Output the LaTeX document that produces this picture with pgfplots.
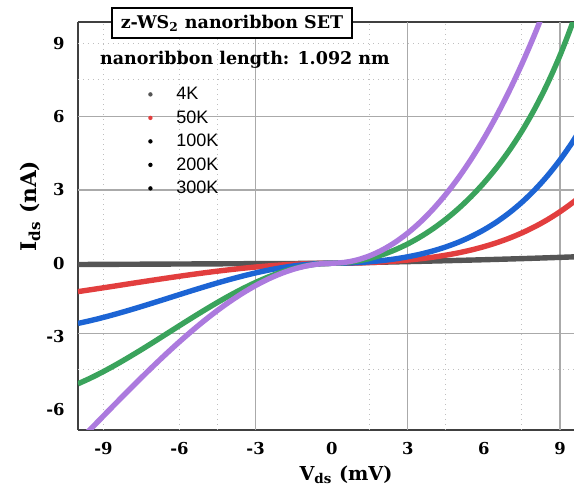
\documentclass[border=0pt]{standalone}
\usepackage{fontspec}
\setmainfont{DejaVu Serif}
\newfontfamily\arial{Liberation Sans}
\usepackage{pgfplots}
\pgfplotsset{compat=1.18}
\definecolor{c4}{RGB}{85,85,85}
\definecolor{c50}{RGB}{226,62,62}
\definecolor{c100}{RGB}{28,100,212}
\definecolor{c200}{RGB}{58,163,92}
\definecolor{c300}{RGB}{172,122,222}
\definecolor{gridc}{RGB}{170,170,170}
\pgfplotsset{dotleg/.style={legend image code/.code={\fill[##1, draw=none] (0pt,0pt) circle (1.1pt); \path[draw=none, fill=none] (-3pt,-1pt) rectangle (12pt,1pt);}}}
\begin{document}
\begin{tikzpicture}
\begin{axis}[
  scale only axis, width=248pt, height=203.75pt,
  xmin=-10, xmax=9.55, ymin=-6.8, ymax=9.87,
  axis x line*=box, axis y line*=left,
  axis line style={draw=black!75, line width=1pt},
  xtick={-9,-6,-3,0,3,6,9}, xticklabels={-9,-6,-3,0,3,6,9},
  ytick={-6,-3,0,3,6,9}, yticklabels={-6,-3,0,3,6,9},
  major tick length=0pt, minor tick length=0pt,
  ticklabel style={font=\fontsize{8.2}{9}\selectfont\bfseries},
  xticklabel style={anchor=north, inner sep=0pt, yshift=-6.1pt},
  yticklabel style={anchor=east, inner sep=0pt, xshift=-6.5pt},
  xlabel={V\textsubscript{ds} (mV)},
  xlabel style={at={(axis description cs:0.5403,-0.1117)}, anchor=center, font=\fontsize{9.6}{11}\selectfont\bfseries},
  ylabel={I\textsubscript{ds} (nA)},
  ylabel style={at={(axis description cs:-0.0968,0.548)}, anchor=center, font=\fontsize{10.8}{12}\selectfont\bfseries},
  every axis title shift=0pt,
  title={z-WS\textsubscript{2} nanoribbon SET},
  title style={at={(axis description cs:0.3105,1)}, anchor=center, yshift=-0.5pt, draw=black, fill=white, line width=0.8pt, font=\fontsize{8.75}{10}\selectfont\bfseries, inner xsep=4.5pt, inner ysep=3.5pt},
  legend style={at={(axis description cs:0.121,0.862)}, anchor=north west, draw=none, fill=none, font=\arial\fontsize{9}{10}\selectfont, row sep=0pt, column sep=0pt, nodes={inner sep=1pt, text height=7.5pt, text depth=2.25pt}},
  legend cell align=left,
  every axis plot/.append style={line width=2.7pt, smooth},
]
\addlegendimage{dotleg, c4}
\addlegendentry{4K}
\addlegendimage{dotleg, c50}
\addlegendentry{50K}
\addlegendimage{dotleg, black}
\addlegendentry{100K}
\addlegendimage{dotleg, black}
\addlegendentry{200K}
\addlegendimage{dotleg, black}
\addlegendentry{300K}

% grid lines
\pgfplotsinvokeforeach{-3,3,9}{\draw[gridc, line width=0.6pt] (axis cs:#1,-6.8) -- (axis cs:#1,9.87);}
\pgfplotsinvokeforeach{-9,-6,-4.5,1.5,4.5,7.5}{\draw[black!25, dotted, line width=0.5pt] (axis cs:#1,-6.8) -- (axis cs:#1,9.87);}
\pgfplotsinvokeforeach{-2.88,3,6}{\draw[gridc, line width=0.6pt] (axis cs:-10,#1) -- (axis cs:9.55,#1);}
\pgfplotsinvokeforeach{-4.35,7.5,9}{\draw[black!25, dotted, line width=0.5pt] (axis cs:-10,#1) -- (axis cs:9.55,#1);}

% 4K
\addplot[c4, forget plot] coordinates {(-10,-0.05) (-8,-0.04) (-6,-0.03) (-4,-0.02) (-2,-0.01) (0,0) (1,0.022) (2,0.045) (3,0.068) (4,0.092) (5,0.118) (6,0.145) (7,0.175) (8,0.207) (9,0.242) (10,0.28)};
% 50K
\addplot[c50, forget plot] coordinates {(-10,-1.160) (-9.5,-1.082) (-9,-1.003) (-8.5,-0.923) (-8,-0.842) (-7.5,-0.762) (-7,-0.683) (-6.5,-0.606) (-6,-0.530) (-5.5,-0.457) (-5,-0.388) (-4.5,-0.322) (-4,-0.261) (-3.5,-0.204) (-3,-0.154) (-2.5,-0.109) (-2,-0.071) (-1.5,-0.041) (-1,-0.019) (-0.5,-0.005) (0,0) (0.5,0.003) (1,0.013) (1.5,0.030) (2,0.055) (2.5,0.089) (3,0.131) (3.5,0.185) (4,0.251) (4.5,0.332) (5,0.428) (5.5,0.544) (6,0.680) (6.5,0.840) (7,1.027) (7.5,1.244) (8,1.494) (8.5,1.781) (9,2.110) (9.5,2.484) (10,2.907)};
% 100K
\addplot[c100, forget plot] coordinates {(-10,-2.460) (-9.5,-2.344) (-9,-2.215) (-8.5,-2.074) (-8,-1.925) (-7.5,-1.769) (-7,-1.608) (-6.5,-1.445) (-6,-1.280) (-5.5,-1.117) (-5,-0.958) (-4.5,-0.803) (-4,-0.657) (-3.5,-0.520) (-3,-0.394) (-2.5,-0.282) (-2,-0.186) (-1.5,-0.108) (-1,-0.049) (-0.5,-0.013) (0,0) (0.5,0.007) (1,0.027) (1.5,0.062) (2,0.112) (2.5,0.179) (3,0.266) (3.5,0.374) (4,0.508) (4.5,0.670) (5,0.864) (5.5,1.096) (6,1.369) (6.5,1.690) (7,2.065) (7.5,2.499) (8,2.999) (8.5,3.573) (9,4.229) (9.5,4.975) (10,5.82)};
% 200K
\addplot[c200, forget plot] coordinates {(-10,-4.930) (-9.5,-4.693) (-9,-4.431) (-8.5,-4.147) (-8,-3.846) (-7.5,-3.533) (-7,-3.210) (-6.5,-2.881) (-6,-2.552) (-5.5,-2.226) (-5,-1.908) (-4.5,-1.600) (-4,-1.307) (-3.5,-1.034) (-3,-0.784) (-2.5,-0.561) (-2,-0.370) (-1.5,-0.214) (-1,-0.098) (-0.5,-0.025) (0,0) (0.5,0.022) (1,0.088) (1.5,0.198) (2,0.352) (2.5,0.551) (3,0.794) (3.5,1.083) (4,1.419) (4.5,1.804) (5,2.241) (5.5,2.734) (6,3.289) (6.5,3.914) (7,4.618) (7.5,5.413) (8,6.314) (8.5,7.339) (9,8.510) (9.5,9.853) (10,11.4)};
% 300K
\addplot[c300, forget plot] coordinates {(-10,-7.313) (-9.5,-6.781) (-9,-6.248) (-8.5,-5.718) (-8,-5.193) (-7.5,-4.677) (-7,-4.172) (-6.5,-3.682) (-6,-3.210) (-5.5,-2.758) (-5,-2.329) (-4.5,-1.927) (-4,-1.555) (-3.5,-1.215) (-3,-0.911) (-2.5,-0.645) (-2,-0.421) (-1.5,-0.241) (-1,-0.109) (-0.5,-0.028) (0,0) (0.5,0.034) (1,0.136) (1.5,0.307) (2,0.547) (2.5,0.858) (3,1.239) (3.5,1.692) (4,2.220) (4.5,2.823) (5,3.504) (5.5,4.265) (6,5.108) (6.5,6.037) (7,7.053) (7.5,8.161) (8,9.364) (8.5,10.665)};

\node[font=\fontsize{8.75}{10}\selectfont\bfseries] at (axis cs:-3.42,8.32) {nanoribbon length: 1.092 nm};
\end{axis}
\pgfresetboundingbox
\path[use as bounding box] (-39pt,-29.25pt) rectangle (248pt,214.75pt);
\end{tikzpicture}
\end{document}
